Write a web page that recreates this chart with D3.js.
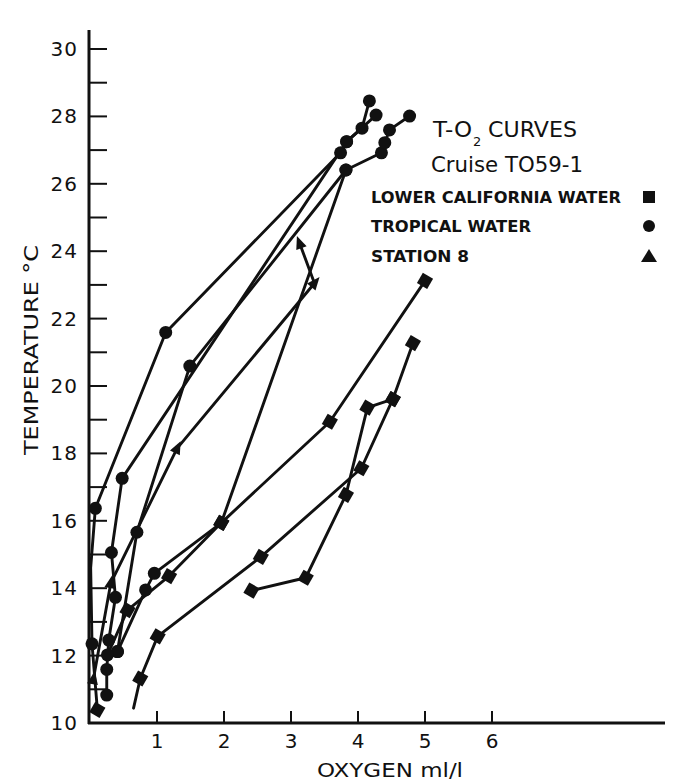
<!DOCTYPE html>
<html><head><meta charset="utf-8">
<script src="https://cdn.jsdelivr.net/npm/d3@7"></script>
<style>html,body{margin:0;padding:0;background:#fff;}svg{display:block;}</style>
</head><body>
<svg id="c" width="677" height="781"></svg>
<script>
// ---- data: [oxygen ml/l, temperature °C, marker]  marker: s=square c=circle t=triangle a=arrow n=none
const tropicalA = [[0.11,10.39,"s"],[0.03,12.35,"c"],[0.01,14.6,"n"],[0.08,16.37,"c"],[1.13,21.59,"c"],[3.74,26.92,"c"],[3.83,27.25,"c"],[4.06,27.65,"c"],[4.17,28.46,"c"]];
const tropicalB = [[0.41,12.12,"c"],[0.70,15.66,"c"],[1.49,20.59,"c"],[3.82,26.41,"c"],[4.35,26.92,"c"],[4.40,27.22,"c"],[4.47,27.60,"c"],[4.77,28.01,"c"]];
const tropicalC = [[0.25,10.83,"c"],[0.25,11.59,"c"],[0.28,12.46,"c"],[0.38,13.73,"c"],[0.32,15.06,"c"],[0.48,17.26,"c"],[3.83,27.25,"c"],[4.27,28.04,"c"]];
const mixedX = [[0.41,12.12,"c"],[0.83,13.95,"c"],[0.96,14.44,"c"],[1.96,15.94,"s"],[3.58,18.94,"s"],[5.0,23.12,"s"]];
const mixedY = [[0.26,12.02,"c"],[0.56,13.35,"s"],[1.18,14.36,"s"],[1.96,15.94,"s"],[3.82,26.41,"c"]];
const lowerCalA = [[0.65,10.44,"n"],[0.75,11.32,"s"],[1.01,12.57,"s"],[2.55,14.93,"s"],[4.05,17.56,"s"],[4.52,19.61,"s"],[4.82,21.27,"s"]];
const lowerCalB = [[2.41,13.93,"s"],[3.22,14.31,"s"],[3.82,16.77,"s"],[4.14,19.36,"s"],[4.52,19.61,"s"]];
const station8 = [[0.05,11.3,"t"],[0.31,14.15,"t"],[1.30,18.15,"t"],[3.35,23.05,"t"],[3.13,24.23,"a"]];
const curves = [tropicalA, tropicalB, tropicalC, mixedX, mixedY, lowerCalA, lowerCalB, station8];

const yTicks = [10,11,12,13,14,15,16,17,18,19,20,21,22,23,24,25,26,27,28,29,30];
const yLabels = [10,12,14,16,18,20,22,24,26,28,30];
const xTicks = [1,2,3,4,5,6];
const legendItems = [["LOWER CALIFORNIA WATER","s"],["TROPICAL WATER","c"],["STATION 8","t"]];

// ---- drawing
const svg = d3.select("#c");
const ink = "#111";
const x = d3.scaleLinear().domain([0,6]).range([90,492]);
const y = d3.scaleLinear().domain([10,30]).range([723,49]);

// axes
svg.append("line").attr("x1",89).attr("x2",89).attr("y1",30).attr("y2",724)
  .attr("stroke",ink).attr("stroke-width",3);
svg.append("line").attr("x1",88).attr("x2",665).attr("y1",723).attr("y2",723)
  .attr("stroke",ink).attr("stroke-width",3);

svg.selectAll(".yt").data(yTicks).enter().append("line")
  .attr("x1",89).attr("x2",107).attr("y1",d=>y(d)).attr("y2",d=>y(d))
  .attr("stroke",ink).attr("stroke-width",2);
svg.selectAll(".yl").data(yLabels).enter().append("text")
  .attr("x",78).attr("y",d=>y(d)+7).attr("text-anchor","end").attr("letter-spacing",1)
  .attr("font-family","DejaVu Sans").attr("font-size",20).attr("fill",ink).text(d=>d);

svg.selectAll(".xt").data(xTicks).enter().append("line")
  .attr("x1",d=>x(d)).attr("x2",d=>x(d)).attr("y1",723).attr("y2",711)
  .attr("stroke",ink).attr("stroke-width",2);
svg.selectAll(".xl").data(xTicks).enter().append("text")
  .attr("x",d=>x(d)).attr("y",748).attr("text-anchor","middle")
  .attr("font-family","DejaVu Sans").attr("font-size",20).attr("fill",ink).text(d=>d);

svg.append("text").attr("x",317).attr("y",777).attr("textLength",146).attr("lengthAdjust","spacingAndGlyphs")
  .attr("font-family","DejaVu Sans").attr("font-size",20).attr("fill",ink).text("OXYGEN  ml/l");
svg.append("text").attr("transform","translate(38,455) rotate(-90)").attr("textLength",210).attr("lengthAdjust","spacingAndGlyphs")
  .attr("font-family","DejaVu Sans").attr("font-size",20).attr("fill",ink).text("TEMPERATURE  °C");

// curves
const line = d3.line().x(d=>x(d[0])).y(d=>y(d[1]));
svg.selectAll(".curve").data(curves).enter().append("path")
  .attr("d",line).attr("fill","none").attr("stroke",ink).attr("stroke-width",2.9)
  .attr("stroke-linejoin","round").attr("stroke-linecap","round");

// markers
const sq = d3.symbol(d3.symbolSquare,140)();
function tri(angle){ // triangle pointing along angle (radians, screen)
  const pts=[[8,0],[-5,-5.5],[-5,5.5]];
  return "M"+pts.map(p=>{const c=Math.cos(angle),s=Math.sin(angle);return [p[0]*c-p[1]*s,p[0]*s+p[1]*c].join(",");}).join("L")+"Z";
}
curves.forEach(cv=>{
  cv.forEach((p,i)=>{
    const px=x(p[0]), py=y(p[1]);
    if(p[2]==="c"){
      svg.append("circle").attr("cx",px).attr("cy",py).attr("r",6.5).attr("fill",ink);
    } else if(p[2]==="s"){
      svg.append("path").attr("d",sq).attr("transform",`translate(${px},${py}) rotate(30)`).attr("fill",ink);
    } else if(p[2]==="t"||p[2]==="a"){
      const q = i>0?cv[i-1]:cv[i+1];
      let ang = i>0?Math.atan2(py-y(q[1]),px-x(q[0])):Math.atan2(y(q[1])-py,x(q[0])-px);
      svg.append("path").attr("d",tri(ang)).attr("transform",`translate(${px},${py})`).attr("fill",ink);
    }
  });
});

// title & legend
const tf="DejaVu Sans";
svg.append("text").attr("x",433).attr("y",137).attr("textLength",39).attr("lengthAdjust","spacingAndGlyphs")
  .attr("font-family",tf).attr("font-size",21).attr("fill",ink).text("T-O");
svg.append("text").attr("x",473).attr("y",146).attr("font-family",tf).attr("font-size",13).attr("fill",ink).text("2");
svg.append("text").attr("x",488).attr("y",137).attr("textLength",89).attr("lengthAdjust","spacingAndGlyphs")
  .attr("font-family",tf).attr("font-size",21).attr("fill",ink).text("CURVES");
svg.append("text").attr("x",431).attr("y",172).attr("textLength",152).attr("lengthAdjust","spacingAndGlyphs")
  .attr("font-family",tf).attr("font-size",22).attr("fill",ink).text("Cruise TO59-1");

const lw=[250,160,98], ly=[203,232,262];
legendItems.forEach((it,i)=>{
  svg.append("text").attr("x",371).attr("y",ly[i]).attr("textLength",lw[i]).attr("lengthAdjust","spacingAndGlyphs")
    .attr("font-family",tf).attr("font-weight","bold").attr("font-size",16).attr("fill",ink).text(it[0]);
  const mx=649, my=ly[i]-6;
  if(it[1]==="s") svg.append("rect").attr("x",mx-6).attr("y",my-6).attr("width",12).attr("height",12).attr("fill",ink);
  else if(it[1]==="c") svg.append("circle").attr("cx",mx).attr("cy",my).attr("r",6).attr("fill",ink);
  else svg.append("path").attr("d",`M${mx},${my-7}L${mx+8},${my+6}L${mx-8},${my+6}Z`).attr("fill",ink);
});
</script>
</body></html>
